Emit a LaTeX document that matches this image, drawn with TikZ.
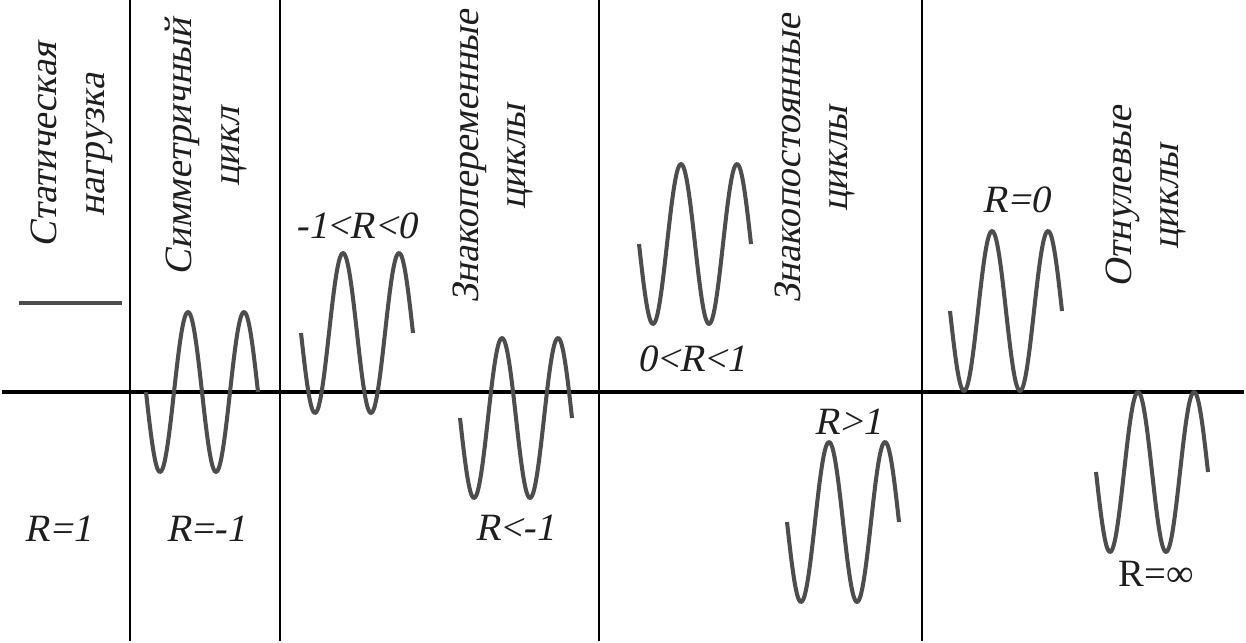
\documentclass[tikz,border=0pt]{standalone}
\usepackage{fontspec}
\setmainfont{Liberation Serif}[ItalicFont=Liberation Serif, ItalicFeatures={FakeSlant=0.2}]
\usetikzlibrary{positioning, calc}
\definecolor{WaveGray}{RGB}{77, 77, 77}
\definecolor{InkText}{RGB}{30, 30, 30}

\begin{document}
\begin{tikzpicture}[x=0.02cm, y=-0.02cm,
        sinewave/.style={draw=WaveGray, line width=2.3pt, line join=round},
        divider/.style={draw=black, line width=1.1pt},
        title/.style={rotate=90, align=center, text=InkText, inner sep=0pt,
            font=\fontsize{22}{27}\selectfont\itshape},
        ratio/.style={text=InkText, inner sep=0pt,
            font=\fontsize{22}{26}\selectfont\itshape}]
        \useasboundingbox (0,0) rectangle (1246,642);

        % Zero axis
        \coordinate (axisL) at (2,392);
        \coordinate (axisR) at (1244,392);
        \draw[line width=2pt] (axisL) -- (axisR);

        % Column dividers
        \foreach \px/\nm in {130/a, 280/b, 599/c, 922/d} {
            \coordinate (top\nm) at (\px,0);
            \coordinate (bot\nm) at (\px,641);
            \draw[divider] (top\nm) -- (bot\nm);
        }

        % Column titles
        \node[title] (static) at (72,145) {Статическая\\нагрузка};
        \node[title] (symm) at (206,147) {Симметричный\\цикл};
        \node[title] (alter) at (493,157) {Знакопеременные\\циклы};
        \node[title] (const) at (815,159) {Знакопостоянные\\циклы};
        \node[title] (pulse) at (1146,197) {Отнулевые\\циклы};

        % Static load
        \coordinate (statL) at (19,303);
        \coordinate (statR) at (122,303);
        \draw[sinewave] (statL) -- (statR);

        % Cycles
        \draw[sinewave] plot[domain=0:112, samples=90, smooth] ({146+\x}, {392+80*sin(\x/56*360)});
        \draw[sinewave] plot[domain=0:112, samples=90, smooth] ({301+\x}, {333+80*sin(\x/56*360)});
        \draw[sinewave] plot[domain=0:112, samples=90, smooth] ({460+\x}, {418+80*sin(\x/56*360)});
        \draw[sinewave] plot[domain=0:112, samples=90, smooth] ({639+\x}, {244+80*sin(\x/56*360)});
        \draw[sinewave] plot[domain=0:112, samples=90, smooth] ({787+\x}, {522+80*sin(\x/56*360)});
        \draw[sinewave] plot[domain=0:112, samples=90, smooth] ({950+\x}, {311+80*sin(\x/56*360)});
        \draw[sinewave] plot[domain=0:112, samples=90, smooth] ({1096+\x}, {472+80*sin(\x/56*360)});

        % Ratios
        \node[ratio] (r1) at (58,529) {R=1};
        \node[ratio] (rm1) at (206,529) {R=-1};
        \node[ratio] (rneg) at (356,226) {-1<R<0};
        \node[ratio] (rlow) at (515,528) {R<-1};
        \node[ratio] (rpos) at (692,359) {0<R<1};
        \node[ratio] (rhigh) at (848,422) {R>1};
        \node[ratio] (r0) at (1016,200) {R=0};
        \node[ratio, font=\fontsize{22}{26}\selectfont] (rinf) at (1156,574) {R=∞};
    \end{tikzpicture}
\end{document}
